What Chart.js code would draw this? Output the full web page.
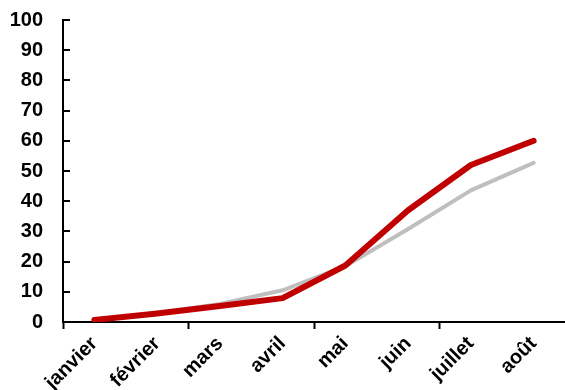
<!DOCTYPE html>
<html>
<head>
<meta charset="utf-8">
<script src="https://cdn.jsdelivr.net/npm/chart.js@4/dist/chart.umd.min.js"></script>
<style>
  html, body { margin: 0; padding: 0; background: #fff; }
  #wrap { width: 565px; height: 390px; }
</style>
</head>
<body>
<div id="wrap"><canvas id="c"></canvas></div>
<script>
const months = ['janvier', 'février', 'mars', 'avril', 'mai', 'juin', 'juillet', 'août'];
const seriesRed = [0.7, 2.8, 5.3, 7.9, 18.7, 37, 52, 60];
const seriesGray = [0.5, 3.0, 6.0, 10.5, 18.5, 30.8, 43.6, 52.7];
const yTicks = [0, 10, 20, 30, 40, 50, 60, 70, 80, 90, 100];

const FONT = "'Liberation Sans Narrow', 'Arial Narrow', 'Liberation Sans', Arial, sans-serif";

// short tick marks pointing into the plot from the value axis
const innerTicks = {
  id: 'innerTicks',
  afterDraw(chart) {
    const y = chart.scales.y;
    const ctx = chart.ctx;
    ctx.save();
    ctx.strokeStyle = '#000';
    ctx.lineWidth = 2;
    ctx.beginPath();
    yTicks.forEach(v => {
      const py = Math.round(y.getPixelForValue(v));
      ctx.moveTo(y.right, py);
      ctx.lineTo(y.right + 7, py);
    });
    ctx.stroke();
    ctx.restore();
  }
};

new Chart(document.getElementById('c'), {
  type: 'line',
  data: {
    labels: months,
    datasets: [
      {
        data: seriesRed,
        borderColor: '#C00000',
        borderWidth: 6,
        borderCapStyle: 'round',
        borderJoinStyle: 'round',
        pointRadius: 0,
        tension: 0
      },
      {
        data: seriesGray,
        borderColor: '#BFBFBF',
        borderWidth: 4,
        borderCapStyle: 'round',
        borderJoinStyle: 'round',
        pointRadius: 0,
        tension: 0
      }
    ]
  },
  options: {
    responsive: true,
    maintainAspectRatio: false,
    animation: false,
    layout: { padding: { top: 20, right: 0, left: 4, bottom: 0 } },
    plugins: { legend: { display: false }, tooltip: { enabled: false } },
    scales: {
      x: {
        offset: true,
        afterFit: s => { s.height = 68; },
        grid: {
          offset: true,
          drawOnChartArea: false,
          drawTicks: true,
          tickLength: 7,
          tickWidth: 2,
          tickColor: ctx => (ctx.index % 2 === 0 ? '#000' : 'rgba(0,0,0,0)')
        },
        border: { color: '#000', width: 2 },
        ticks: {
          color: '#000',
          autoSkip: false,
          maxRotation: 45,
          minRotation: 45,
          padding: 3,
          font: { family: FONT, size: 20, weight: 'bold' }
        }
      },
      y: {
        min: 0,
        max: 100,
        afterBuildTicks: s => { s.ticks = yTicks.map(v => ({ value: v })); },
        afterFit: s => { s.width = 59; s.paddingTop = 0; s.paddingBottom = 0; },
        grid: { display: true, drawOnChartArea: false, drawTicks: false },
        border: { color: '#000', width: 2 },
        ticks: {
          color: '#000',
          autoSkip: false,
          padding: 20,
          font: { family: FONT, size: 20, weight: 'bold' }
        }
      }
    }
  },
  plugins: [innerTicks]
});
</script>
</body>
</html>
